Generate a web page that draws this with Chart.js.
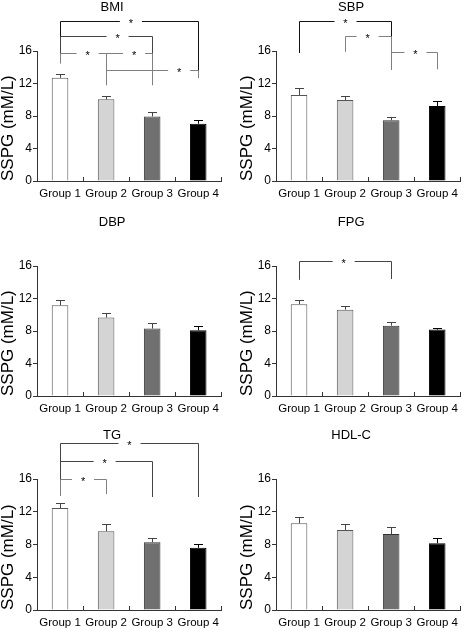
<!DOCTYPE html>
<html>
<head>
<meta charset="utf-8">
<script src="https://cdn.jsdelivr.net/npm/chart.js@4.4.0/dist/chart.umd.min.js"></script>
<style>
    body { margin: 0; background: #fff; width: 466px; height: 631px; position: relative; overflow: hidden; }
    .panel { position: absolute; }
</style>
</head>
<body>
<div class="panel" style="left:0;top:0"><canvas id="c0" width="225" height="205"></canvas></div>
<div class="panel" style="left:233px;top:0"><canvas id="c1" width="231" height="205"></canvas></div>
<div class="panel" style="left:0;top:205px"><canvas id="c2" width="225" height="215"></canvas></div>
<div class="panel" style="left:233px;top:205px"><canvas id="c3" width="231" height="215"></canvas></div>
<div class="panel" style="left:0;top:420px"><canvas id="c4" width="225" height="214"></canvas></div>
<div class="panel" style="left:233px;top:420px"><canvas id="c5" width="231" height="214"></canvas></div>
<script>
const groups = ['Group 1', 'Group 2', 'Group 3', 'Group 4']
const yTicks = [0, 4, 8, 12, 16]
const panelTitles = ['BMI', 'SBP', 'DBP', 'FPG', 'TG', 'HDL-C']

// mean SSPG and upper error (SEM) per group
const bmiMeans = [12.7, 10.05, 7.95, 7.05]
const bmiErr = [0.5, 0.45, 0.6, 0.5]
const sbpMeans = [10.6, 9.97, 7.47, 9.23]
const sbpErr = [0.8, 0.55, 0.37, 0.65]
const dbpMeans = [11.16, 9.65, 8.3, 8.08]
const dbpErr = [0.7, 0.55, 0.68, 0.5]
const fpgMeans = [11.3, 10.63, 8.66, 8.17]
const fpgErr = [0.56, 0.41, 0.49, 0.25]
const tgMeans = [12.45, 9.63, 8.28, 7.59]
const tgErr = [0.61, 0.86, 0.53, 0.45]
const hdlMeans = [10.6, 9.77, 9.28, 8.16]
const hdlErr = [0.8, 0.72, 0.8, 0.65]

// significance brackets: [from group, to group, level, left leg end, right leg end, star position, shade]
const bmiBrackets = [
    [0, 3, 19.7, 14.5, 12.7, 0.51, 0],
    [0, 2, 17.85, 14.5, 11.8, 0.62, 1],
    [0, 1, 15.8, 14.5, 11.8, 0.59, 2],
    [1, 2, 15.8, 11.8, 11.8, 0.6, 2],
    [1, 3, 13.66, 11.8, 12.7, 0.79, 2]
]
const sbpBrackets = [
    [0, 2, 19.7, 15.75, 13.66, 0.5, 0],
    [1, 2, 17.85, 15.9, 13.66, 0.48, 2],
    [2, 3, 15.9, 15.9, 13.75, 0.52, 2]
]
const dbpBrackets = []
const fpgBrackets = [
    [0, 2, 16.6, 14.3, 14.4, 0.48, 1]
]
const tgBrackets = [
    [0, 3, 20.4, 13.95, 13.8, 0.5, 1],
    [0, 2, 18.15, 13.95, 13.8, 0.48, 1],
    [0, 1, 16.0, 13.95, 14.16, 0.49, 2]
]
const hdlBrackets = []

const barColors = ['#ffffff', '#d4d4d4', '#707070', '#000000']
const barBorders = ['#555555', '#555555', '#333333', '#000000']
const shades = ['#111111', '#444444', '#808080']

Chart.defaults.font.family = "'Liberation Sans', Arial, sans-serif"
Chart.defaults.color = '#000'

function px(v) {
    return Math.round(v) + 0.5
}

function crearPanel(id, titulo, medias, errores, brackets, padTop, anchoY, padTitulo) {
    const extras = {
        id: 'extras' + id,
        afterDatasetsDraw(chart) {
            const ctx = chart.ctx
            const x = chart.scales.x
            const y = chart.scales.y
            const area = chart.chartArea
            const meta = chart.getDatasetMeta(0)
            ctx.save()
            ctx.lineWidth = 1

            // error bars (upper whisker only)
            errores.forEach((e, i) => {
                const cx = px(meta.data[i].x)
                const base = meta.data[i].y
                const top = px(y.getPixelForValue(medias[i] + e))
                ctx.strokeStyle = i === 3 ? '#000' : '#444'
                ctx.beginPath()
                ctx.moveTo(cx, base)
                ctx.lineTo(cx, top)
                ctx.moveTo(cx - 4.5, top)
                ctx.lineTo(cx + 4.5, top)
                ctx.stroke()
            })

            // inward ticks on the x axis between groups
            const paso = x.getPixelForValue(1) - x.getPixelForValue(0)
            ctx.strokeStyle = '#333'
            ctx.beginPath()
            groups.forEach((g, i) => {
                const tx = px(x.getPixelForValue(i) + paso / 2)
                ctx.moveTo(tx, area.bottom)
                ctx.lineTo(tx, area.bottom - 4)
            })
            ctx.stroke()

            // brackets
            ctx.font = "11px 'Liberation Sans', Arial, sans-serif"
            ctx.textAlign = 'center'
            ctx.textBaseline = 'middle'
            brackets.forEach(b => {
                const xa = px(x.getPixelForValue(b[0]))
                const xb = px(x.getPixelForValue(b[1]))
                const yl = px(y.getPixelForValue(b[2]))
                const ya = y.getPixelForValue(b[3])
                const yb = y.getPixelForValue(b[4])
                const sx = xa + (xb - xa) * b[5]
                ctx.strokeStyle = shades[b[6]]
                ctx.fillStyle = '#000'
                ctx.beginPath()
                ctx.moveTo(xa, ya)
                ctx.lineTo(xa, yl)
                ctx.lineTo(sx - 11, yl)
                ctx.moveTo(sx + 11, yl)
                ctx.lineTo(xb, yl)
                ctx.lineTo(xb, yb)
                ctx.stroke()
                ctx.fillText('*', sx, yl + 2)
            })

            // panel title
            ctx.font = "13px 'Liberation Sans', Arial, sans-serif"
            ctx.fillStyle = '#000'
            ctx.fillText(titulo, (area.left + area.right) / 2 - 17, area.top - 44)
            ctx.restore()
        }
    }

    return new Chart(document.getElementById(id), {
        type: 'bar',
        data: {
            labels: groups,
            datasets: [{
                data: medias,
                backgroundColor: barColors,
                borderColor: barBorders,
                borderWidth: 1,
                barPercentage: 0.9,
                categoryPercentage: 0.4
            }]
        },
        options: {
            responsive: false,
            animation: false,
            layout: { padding: { top: padTop, left: 0, right: 0, bottom: 0 } },
            plugins: { legend: { display: false }, tooltip: { enabled: false } },
            scales: {
                x: {
                    grid: { drawOnChartArea: false, drawTicks: false },
                    border: { color: '#333' },
                    ticks: { font: { size: 11.5 }, padding: 6, maxRotation: 0, autoSkip: false },
                    afterFit(s) { s.height = 24 }
                },
                y: {
                    min: 0,
                    max: 16,
                    afterBuildTicks(s) { s.ticks = yTicks.map(v => ({ value: v })) },
                    grid: { drawOnChartArea: false, tickLength: 4, color: '#333' },
                    border: { color: '#333' },
                    ticks: { font: { size: 12 }, padding: 1 },
                    title: {
                        display: true,
                        text: 'SSPG (mM/L)',
                        align: 'start',
                        font: { size: 17, lineHeight: 1 },
                        padding: { top: padTitulo, bottom: 0 }
                    },
                    afterFit(s) { s.width = anchoY }
                }
            }
        },
        plugins: [extras]
    })
}

crearPanel('c0', panelTitles[0], bmiMeans, bmiErr, bmiBrackets, 51, 37, 0)
crearPanel('c1', panelTitles[1], sbpMeans, sbpErr, sbpBrackets, 51, 43, 6)
crearPanel('c2', panelTitles[2], dbpMeans, dbpErr, dbpBrackets, 61, 37, 0)
crearPanel('c3', panelTitles[3], fpgMeans, fpgErr, fpgBrackets, 61, 43, 6)
crearPanel('c4', panelTitles[4], tgMeans, tgErr, tgBrackets, 59, 37, 0)
crearPanel('c5', panelTitles[5], hdlMeans, hdlErr, hdlBrackets, 59, 43, 6)
</script>
</body>
</html>
